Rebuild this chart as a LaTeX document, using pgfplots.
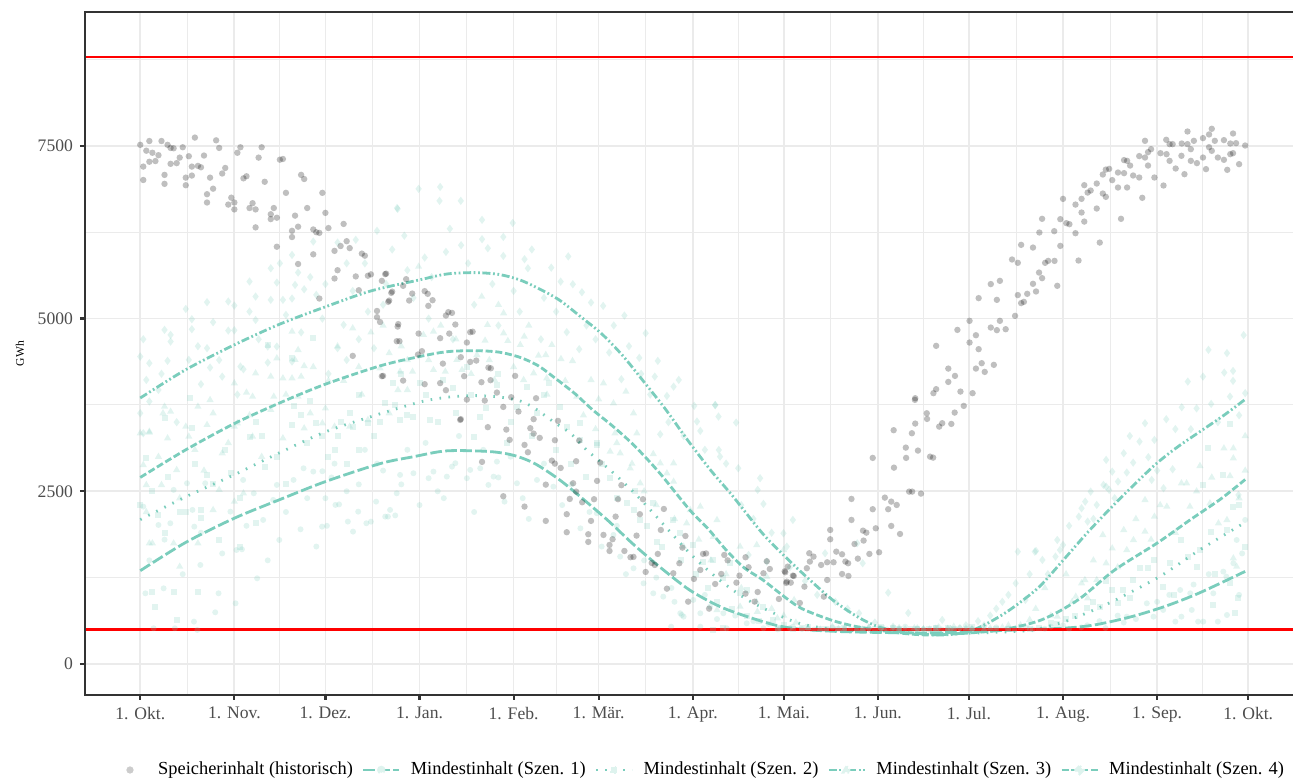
\documentclass[border=0pt]{standalone}
\usepackage{fontspec}
\setmainfont{Liberation Serif}
\usepackage{pgfplots}
\pgfplotsset{compat=1.18}
\definecolor{tealc}{RGB}{122,205,188}
\definecolor{gridc}{RGB}{235,235,235}
\definecolor{framec}{RGB}{51,51,51}
\definecolor{tickc}{RGB}{77,77,77}
\pgfplotsset{
  tealmark/.style={only marks, mark options={draw=tealc, draw opacity=0, line width=0pt, fill=tealc, fill opacity=0.22}, forget plot},
}
\begin{document}
\begin{tikzpicture}
\begin{axis}[
  scale only axis, width=607.7pt, height=341.5pt,
  xmin=-18.2, xmax=382.2, ymin=-449, ymax=9438,
  axis line style={draw=none},
  tick align=outside, tick pos=left,
  major tick length=2.5pt, minor tick length=0pt,
  tick style={framec, line width=1.1pt},
  xtick={0,31,61,92,123,151,182,212,243,273,304,335,365},
  xticklabels={1. Okt.,1. Nov.,1. Dez.,1. Jan.,1. Feb.,1. Mär.,1. Apr.,1. Mai.,1. Jun.,1. Jul.,1. Aug.,1. Sep.,1. Okt.},
  minor xtick={15.5,46,76.5,107.5,137,166.5,197,227.5,258,288.5,319.5,350},
  ytick={0,2500,5000,7500},
  yticklabels={0,2500,5000,7500},
  minor ytick={1250,3750,6250,8750},
  grid=both,
  major grid style={gridc, line width=0.85pt},
  minor grid style={gridc, line width=0.45pt},
  ticklabel style={font=\fontsize{8.8}{10}\selectfont, text=tickc},
  ylabel={GWh},
  ylabel style={font=\fontsize{5.8}{7}\selectfont, at={(axis description cs:-0.0535,0.5)}, anchor=center},
  legend columns=5,
  legend cell align=left,
  legend style={at={(axis description cs:0.0222,-0.1098)}, anchor=west, draw=none, fill=none,
    inner sep=0pt, outer sep=0pt, font=\fontsize{9.2}{11}\selectfont,
    nodes={inner sep=0pt},
    /tikz/every odd column/.style={column sep=5.1pt},
    /tikz/every even column/.style={column sep=4.5pt}},
]
% ---------- scenario scatter (Szen. 3, diamonds) ----------
\addplot[tealmark, mark=diamond*, mark size=2.1pt] coordinates {
(1,4701) (0,4450) (3,4354) (9,4388) (2,4112) (0,3630) (1,3340) (6,3967) (8,4836) (10,4764) (10,4667)
(15,5139) (17,4846) (17,4991) (16,4402) (20,4050) (22,5237) (24,4947) (22,4571) (23,4290) (27,4160)
(29,5247) (31,5188) (29,4826) (31,4830) (33,4305) (34,4266) (36,5536) (36,5101) (38,5319) (38,4980)
(42,4363) (43,5728) (45,5521) (43,5271) (47,5271) (48,5053) (45,4595) (42,4595) (50,5921) (52,5666)
(51,5487) (54,5424) (50,5290) (50,4378) (57,6115) (58,5343) (65,4571) (67,4909) (71,6140) (77,4571)
(78,6270) (84.6,6600) (60,5000) (65,6100) (70,5400) (74,5800) (80,5200) (83,6000) (88,5700) (72,4700)
(62,4200) (68,4400) (91.7,6878) (84.8,6588) (98.6,6704) (105.6,6704) (112.6,6429) (119.6,6182)
(112.6,6149) (105.7,6062) (100.7,5965) (93.7,5883) (114.5,6018) (119.6,5907) (126.6,5859) (135.4,5737)
(127.7,5728) (138.5,5535) (142.5,5497) (145.5,5381) (148.5,5232) (152.5,5184) (159.5,5044) (166.5,4788)
(140.5,4803) (144.6,4557) (154.5,4508) (158.5,4122) (164.4,4431) (170.5,4387) (177.4,4112) (169.5,4160)
(173.5,3880) (175.7,4015) (182.5,3736) (189.4,3745) (190.5,3581) (196.3,3494) (183.4,3509) (184.5,3374)
(171.3,3325) (98.8,6905) (122.7,6384) (95,5000) (103,4700) (110,5200) (118,4900) (125,5100) (132,4700)
(197,2833) (204.2,2689) (205.3,2317) (203.4,2520) (191,3001) (200.4,1578) (206.4,1482) (211.9,1892)
(213,1699) (189.4,3750) (190.6,3098) (215,2085) (225.6,1603) (236.2,1747) (238,1458) (236.8,734)
(246.4,1032) (253,738) (264.2,637) (240,520) (244,505) (248,540) (252,500) (256,515) (260,500) (263,530)
(267,505) (270,520) (274,500) (278,560) (280,700) (284,900) (289.1,1626) (294.7,1626) (297.2,1506)
(288.4,1168) (291.6,927) (301.5,1554) (304,1723) (295.1,1636) (302.1,1795) (303,1650) (310.1,2254)
(309.2,2133) (311.3,2350) (312.1,2061) (313.1,2495) (315.1,2302) (318.2,2954) (317.3,2592) (320.2,2784)
(318.2,2568) (319.2,2520) (324,3050) (325,2771) (322.1,2640) (327.1,2915) (329.2,3219) (331,3485)
(334.1,3243) (332.1,2993) (333.2,2664) (338,3543) (340.1,2819) (337.1,2544) (343.1,3716) (346.1,3398)
(345.1,4088) (350.1,4160) (352.8,3764) (357.1,4218) (360,4242) (360,4098) (359,3871) (364,3920)
(361.8,2447) (351.9,4547) (363.5,4760)
(3,3800) (7,4200) (12,3500) (19,4600) (26,4400) (32,3900) (39,4700) (46,5800) (53,4800) (56,5600)
(61,5500) (68,5800) (75,5100) (81,5500) (87,6200) (90,5300) (96,5600) (102,6300) (108,5800) (116,5500)
(123,5400) (129,6000) (133,5300) (137,5100) (141,5900) (147,4900) (150,4700) (156,4900) (161,4600)
(165,4200) (168,3900) (174,3500) (179,3300) (186,3100) (193,2900) (198,2300) (202,2100) (208,1900)
(214,1400) (219,1200) (223,1000) (229,900) (233,800) (242,600) (250,520) (258,500) (266,510) (272,560)
(276,620) (282,800) (286,1000) (293,1300) (299,1300) (306,2000) (314,2100) (321,2400) (326,3300)
(335,2800) (341,3400) (348,3700) (355,3500) (358,4500) (362,3600)
};
% ---------- Szen. 4, triangles ----------
\addplot[tealmark, mark=triangle*, mark size=2.1pt] coordinates {
(0,3340) (3,3364) (8,3726) (10,3653) (9,3268) (16,3292) (22,3461) (27,3051) (32,3485) (43,3678) (47,3268)
(54,3412) (60,3485) (64,3436) (69,3436) (75,3533) (82,3630) (11,1747) (3,1747) (24,2230) (31,2350)
(19,1747) (13,1409) (26,2520) (34,2471) (12,2809) (7,2592) (1,2881) (2,2592) (4,1747) (43,4160)
(50,4812) (52,4546) (54,4314) (45,4426) (47,4136) (50,4136) (53,4160) (51,4402) (35,3929) (38,4208)
(31,4064) (23,3822) (24,3630) (19,3726) (7.5,3630) (3,3349) (15,3436) (31,3436) (37,3870) (44,3870)
(37,3292) (52,3870) (56,3630) (65,4600) (70,4860) (76,4800) (79,4281) (82,4500) (88,4400) (62,4100)
(72,4300) (91.7,5752) (119.7,5078) (112.5,5318) (114.4,4909) (126.5,4740) (119.7,4788) (113.6,4682)
(96.6,4812) (93.3,4764) (85.6,4232) (89.7,4232) (84.9,3967) (88,3967) (96.6,4257) (104.3,4402)
(110.9,4474) (121.1,4677) (125.2,4619) (131.2,4464) (133.6,4474) (135.6,4619) (138.6,4416) (142.4,4387)
(148.5,4112) (152.6,4064) (155.9,3774) (160,3943) (163.6,3340) (156.4,3340) (129.6,4209) (100.5,4232)
(106,4257) (116.7,4112) (126.3,4112) (133.9,4136) (143.8,3870) (151,3832) (162.5,3630) (154.8,3075)
(158.1,3051) (161.4,2833) (164.7,2616) (169,3040) (171.3,2906) (173.5,2761) (175.7,2640) (175.7,2906)
(180,2037) (181.2,2230) (184.5,2278) (190,2085) (188.8,1843) (197.6,1699) (203.1,1723) (206.4,1264)
(211.9,1650) (190,782) (197.6,830) (203.3,757) (209.9,662) (215.4,927) (220,520) (224,500) (228,540)
(232,505) (236,500) (240,530) (245,510) (250,500) (255,520) (262,500) (268,540) (274,505) (280,520)
(286,560) (295,800) (298,1100) (305,1300) (360.1,3122) (360.1,2978) (357,3122) (359,2722) (349.1,2867)
(344.7,2616) (345.8,2278) (343,2616) (338.2,2278) (336,2300) (334.1,2133) (331,2375) (331,1916)
(327.2,1795) (325,1650) (324,1940) (320.2,1674) (317.1,1868) (318.2,1458) (315.1,1216) (311.2,1216)
(310.1,1168) (312.1,951) (308.2,975) (302.1,685) (360.1,1530) (361.2,1409) (364,2799) (355.2,2037)
(358,2085) (352.4,2326)
(2,2200) (6,3000) (13,2400) (18,3100) (21,2800) (29,3200) (36,3600) (40,3000) (48,3900) (57,4300)
(61,3700) (67,4100) (73,3900) (80,4900) (86,4600) (95,4400) (99,4900) (104,4700) (109,4200) (115,4400)
(118,5200) (123,4300) (128,4900) (134,3900) (140,4100) (146,3600) (150,3400) (157,3200) (162,2900)
(166,2500) (170,2300) (176,2100) (179,1700) (184,1800) (188,1500) (193,1300) (198,1100) (203,900)
(208,800) (212,700) (216,600) (230,510) (238,500) (248,520) (258,505) (266,500) (272,515) (278,500)
(284,530) (290,560) (293,640) (300,700) (307,900) (314,1500) (322,1400) (328,2100) (333,1800)
(341,1900) (348,2500) (353,2700) (362,2400) (364,3300)
};
% ---------- Szen. 2, squares ----------
\addplot[tealmark, mark=square*, mark size=1.5pt] coordinates {
(2,2978) (8,1892) (11,1047) (4,1047) (5,830) (12,637) (19,1047) (20,2230) (13,2205) (6,2157) (22,2737)
(30,2761) (36,3292) (41,2857) (50,3461) (55,3195) (64,3099) (70,3436) (75,3485) (38,2037) (33,1699)
(26,1795) (20,2109) (57,4716) (42,4619) (50,4426) (17,3412) (8,3557) (38,3509) (53,3605) (58,3485)
(16.5,3847) (50.5,3735) (66,3500) (72,3900) (77,3300) (84,3750) (88,3600) (62,3000) (68,2900) (69,3630)
(85.6,3533) (95.5,3533) (104,3630) (112,3582) (124,3726) (130.6,3630) (138.3,3726) (140.5,3436)
(150.4,3195) (127.5,4015) (134.6,4064) (117.4,4040) (107.6,4305) (99.9,4112) (92.3,4064) (83.4,4064)
(90,3582) (80.7,3774) (109.8,3292) (120.8,3195) (145,3485) (145,3243) (150.4,3171) (154.8,2689)
(160.3,2326) (162.5,2230) (164.7,2085) (169,2326) (170.1,1771) (175.6,2085) (177.9,1892) (182.2,1723)
(185.5,1482) (188.8,1506) (192.1,1240) (194.3,1458) (197.6,1023) (199.8,1071) (205.3,830) (208.6,637)
(192.1,517) (188.8,492) (210,517) (215,500) (220,530) (226,505) (232,520) (238,500) (244,540) (250,510)
(256,500) (262,520) (268,505) (274,530) (282,500) (290,540) (296,520) (300,600) (305,650) (351.9,3122)
(350,2592) (359,3475) (356.8,2736) (358,1940) (360.1,2278) (349,1650) (352.8,1916) (345.3,1554)
(348,1409) (339.3,1458) (340.4,999) (337,1119) (329.4,1385) (332,1385) (327.2,1216) (323.9,1071)
(322.2,878) (320,1071) (316.2,830) (311.8,806) (361.8,951) (353.5,854) (360.7,734) (359,1168)
(0,2300) (4,2500) (9,2700) (15,2200) (18,2900) (24,2600) (28,3100) (33,2400) (40,3300) (45,3000)
(48,2600) (56,3800) (60,3300) (65,3300) (72,3100) (79,3500) (86,4200) (94,3900) (98,3500) (103,4000)
(109,3900) (114,3700) (118,4200) (122,3500) (129,3300) (133,3900) (137,3100) (142,2900) (147,2700)
(152,2900) (157,2400) (163,2500) (167,2000) (172,1700) (178,1500) (183,1300) (187,1100) (190,900)
(195,800) (200,700) (204,620) (212,560) (218,520) (224,500) (230,510) (236,520) (242,500) (248,515)
(254,505) (260,500) (266,515) (272,500) (278,520) (286,510) (293,505) (302,580) (308,700) (314,900)
(318,1200) (326,950) (334,1500) (343,1800) (354,1300) (362,2300) (364,1700)
};
% ---------- Szen. 1, circles ----------
\addplot[tealmark, mark=*, mark size=1.5pt] coordinates {
(1.7,1023) (4.4,517) (7.7,1095) (11.4,517) (17.7,613) (18.8,492) (19.8,1433) (25.8,1023) (24.7,748)
(31.4,878) (31.7,1650) (33.5,1660) (38.5,1240) (40.5,2085) (43.8,2375) (45.8,1795) (52.8,1950)
(59.9,1988) (61.5,2000) (64.3,2302) (65.5,2310) (68.4,2061) (70.1,1916) (71.8,2205) (74.5,2037)
(76,2060) (77.7,2350) (81.6,2133) (84,2150) (6,2012) (1,2278) (9.9,2037) (17.2,2230) (17.8,1988)
(29.7,2205) (33.9,2664) (45,2592) (50.5,2664) (53.8,2833) (57,2785) (60,2790) (61,2399) (37.4,2471)
(21.4,2616) (15.4,2616) (11,2520) (64,2900) (68,2500) (74,3100) (80,2800) (86,2600) (80.7,2133)
(82.3,2230) (85.6,2737) (90,2761) (95,2689) (96.6,2785) (101,2712) (102.7,2857) (103.8,2906)
(107.6,2689) (112,2833) (114.7,2592) (116.4,2712) (117.5,2929) (124.1,2616) (130.7,2664) (136.1,2567)
(145,1964) (150.4,2182) (155.9,1868) (158.1,1554) (162.5,1385) (165.8,1168) (169,1023) (172.3,975)
(175,1100) (177.9,734) (179,685) (182.2,927) (184.5,734) (187.7,830) (192.1,734) (184.5,540)
(193.2,517) (199.8,589) (205.3,517) (210.8,517) (174.9,540) (84.5,2471) (108.7,2809) (178.4,709)
(92,2300) (100,2400) (110,2200) (120,2350) (128,2100) (210,500) (214,520) (218,505) (222,500) (228,530)
(234,500) (240,515) (246,500) (252,540) (258,505) (264,500) (270,520) (276,500) (282,530) (288,505)
(294,500) (300,540) (306,510) (312,560) (318,520) (324,600) (343,685) (341,613) (346.4,782) (348.5,613)
(350.2,613) (355,613) (358,709) (356.8,1337) (360.1,1458) (353.5,1023) (361.2,1795) (364,2085)
(357.8,1264) (342.6,1071) (345.9,1023) (337,782) (331.6,878) (325,685) (333.8,685)
(3,1500) (8,1800) (14,1300) (20,1900) (27,1600) (35,2000) (42,1500) (48,2200) (55,2400) (58,1700)
(63,2700) (72,2600) (78,2900) (88,3100) (94,3200) (98,2500) (105,3300) (113,3100) (118,2700) (122,3000)
(126,2400) (133,2900) (139,2300) (142,2600) (148,2200) (152,1700) (157,2000) (160,1300) (166,1500)
(170,1250) (176,900) (186,1000) (190,650) (196,700) (202,620) (207,580) (215,540) (220,510) (226,500)
(232,515) (238,505) (244,520) (250,500) (256,510) (262,525) (268,500) (274,510) (280,500) (286,515)
(292,530) (298,510) (304,560) (310,530) (316,620) (322,700) (328,650) (335,900) (339,1000) (347,1150)
(352,1300) (362,1000) (363,1600)
};
% ---------- historical storage ----------
\addplot[only marks, mark=*, mark size=1.6pt, mark options={draw=black, draw opacity=0, line width=0pt, fill=black, fill opacity=0.25},
  legend image code/.code={\path[draw=none, fill=none] (0pt,-2pt) rectangle (18pt,2pt); \fill[black!20] (9pt,0pt) circle (1.6pt);}] coordinates {
(0,7515) (1,7200) (1,7006) (2,7430) (3,7570) (3,7270) (4,7400) (5,7280) (6,7365) (7,7570) (8,7080)
(8,6950) (9,7515) (10,7470) (10,7240) (11,7465) (12,7250) (13,7330) (14,7480) (15,7040) (15,6930)
(16,7350) (17,7200) (17,7070) (18,7620) (19,7210) (20,7190) (21,7360) (22,6800) (22,6680) (23,7040)
(24,6880) (25,7580) (26,7470) (27,7100) (28,7180) (29,6650) (30,6750) (31,6680) (31,6580) (32,7400)
(33,7480) (34,7030) (35,7060) (36,6600) (37,6670) (38,6580) (38,6320) (39,7330) (40,7480) (41,6980)
(43,6510) (43,6440) (44,6600) (45,6460) (45,6040) (46,7300) (47,7310) (48,6820) (50,6270) (50,6180)
(51,6490) (52,6330) (52,5790) (53,7080) (54,7020) (55,6600) (57,6290) (57,5930) (58,6250) (59,6240)
(59,5290) (60,6820) (61,6530) (62,6310) (64,5980) (64,5580) (65,5700) (66,6050) (67,6370) (68,6120)
(69,6020) (70,4460) (71,5610) (72,5410) (73,5940) (74,5910) (75,5620) (76,5640) (78,5110) (78,5020)
(79,4950) (80,4170) (81,5650) (82,5260) (83,5390) (85,4920)
(80.7,5643) (79.6,5546) (82.7,5372) (81.7,5242) (87.6,5570) (86.6,5474) (89.6,5362) (88.6,5261)
(93.7,5397) (94.7,5358) (96.3,5266) (94.9,5184) (101.5,5093) (102.7,5082) (100.7,5044) (84.8,4884)
(103.8,4914) (84.5,4672) (85.4,4672) (91.7,4783) (92.8,4528) (91.5,4479) (98.8,4716) (101.8,4783)
(108.7,4803) (109.5,4810) (107.6,4653) (105.6,4441) (99.7,4348) (108.7,4373) (110.7,4392) (106.7,4166)
(114.7,4290) (115.5,4280) (79.6,4166) (86.6,4102) (93.7,4050) (98.8,4065) (100.7,3963) (112.4,4079)
(115.4,4108) (117.5,3929) (123.5,4170) (107.6,3827) (113.5,3813) (119.6,3721) (122.2,3862) (124.6,3654)
(130.4,3847) (129.6,3544) (137.6,3519) (105.6,3544) (114.5,3428) (120.6,3393) (128.5,3413) (129.6,3335)
(131.6,3273) (121.7,3244) (126.6,3171) (136.6,3239) (144.6,3233)
(105.4,3533) (112.6,2925) (119.6,2428) (126.6,2278) (133.6,2071) (133.6,2596) (135.6,2944) (136.6,2900)
(138.5,2838) (127.7,3065) (140.5,2168) (140.5,1907) (141.5,2389) (142.6,2616) (143.6,2935) (143.6,2495)
(145.6,2341) (147.6,1878) (147.6,1767) (148.5,2071) (149.5,2385) (150.5,2650) (151.5,2915) (152.6,1868)
(154.6,1723) (154.6,1636) (155.6,1806) (156.6,2133) (157.4,2385) (158.5,2588) (159.5,1636) (161.5,1545)
(162.5,1550) (163.5,1858) (164.6,2168) (165.6,2385) (166.5,1332) (168.5,1462) (169.5,1433) (170.5,1593)
(171.5,1940) (172.5,2244) (173.5,1090) (175.6,1313) (177.6,1458) (178.6,1684) (179.6,1853) (180.5,902)
(182.4,1231) (184.5,1361) (185.4,1593) (186.4,1600) (187.4,801) (189.4,1158) (191.4,1303) (192.4,1578)
(193.5,1500) (196.4,1177) (197.4,1279) (199.4,1545) (199.4,1018) (200.4,1400) (202.4,902) (203.4,1042)
(205.3,1313) (206.4,1487) (207.4,1375) (210.4,941) (212.3,1342) (212.8,1173) (213.3,1409) (214.3,1177)
(215.3,1274)
(212.5,1327) (213,1192) (215,1279) (217.3,883) (220.6,1482) (220.4,1603) (219.6,1386) (218.8,1119)
(221.8,1554) (224.3,1433) (225.2,975) (226.3,1472) (228.4,1472) (226.3,1216) (227.3,1940) (227.3,1805)
(229.3,1626) (231.2,1588) (231.2,1303) (232.3,1482) (233.3,1274) (233.2,1458) (234.3,2389) (234.3,2085)
(235.3,1737) (236.4,1525) (238.1,1930) (239.2,1901) (238.3,1786) (240.2,1593) (241.3,2240) (242.3,1964)
(243.4,1617) (241.3,2983) (245.3,2408) (246.4,2240) (247.4,2350) (249.2,2302) (247.4,1998) (250.3,1882)
(248.3,2842) (248.2,3384) (252.2,3132) (252.3,2983) (253.3,2495) (254.3,2495) (254.2,3340) (255.3,3480)
(256.2,3089) (257.2,2466) (259.1,3629) (259.2,3547) (260.2,3001) (261.2,2987) (263.2,3436) (264.2,3485)
(267.2,3475) (268.3,3639) (271.3,3736) (255.2,3823)
(255.3,3847) (261.3,3920) (262.2,3978) (262.2,4605) (266.2,4276) (266.2,4083) (268.4,4170) (269.2,4836)
(270.2,3943) (273.2,4967) (273.2,4653) (274.2,3920) (275.3,4759) (275.3,4276) (276.2,4557) (276.2,5296)
(277.2,4354) (278.2,4228) (280.2,5499) (280.2,4870) (281.2,4330) (282.2,5271) (282.2,4832) (283.2,5546)
(283.2,4967) (285.1,4846) (287.2,5855) (288.2,5039) (289.1,5807) (289.1,5340) (290.2,6067) (290.2,5224)
(291.1,5242) (292.2,5358) (294.1,6028) (294.1,5503) (295.1,5392) (296.1,5666) (296.2,6246) (297.1,6444)
(297.1,5585) (298.1,5807) (299.1,5835) (301.1,6265) (301.2,5835) (302.1,5474) (303.1,6439) (303.1,6052)
(304,6733) (305.1,6381) (306.1,6366) (308.1,6236) (308.1,6650) (309.1,5840) (310.1,6733) (310.1,6535)
(311,6931) (311,6404) (312.1,6824) (313.1,6853) (315.1,6955) (315.1,6593) (316.1,6100) (317.1,7085)
(317.1,6810) (318.1,6762) (318.1,7157) (319.2,7167) (320.2,7004) (322.1,7114) (322.1,6897) (323.1,6444)
(324.1,7294) (324.1,7105) (325.1,7283) (325.1,6897) (326.1,7215) (327.1,7071) (329.1,7042) (329.1,7352)
(330.1,6748) (331,7573) (331,7331) (332,7215) (332,7409) (333,7452) (334.1,7042) (336.1,7394) (337.1,6926)
(338,7588) (338.1,7380) (339.1,7283) (339.1,7525) (340.1,7525) (341.1,7172) (343,7356) (343.1,7534)
(344,7090) (345,7708) (345,7525) (346.1,7283) (346.1,7452) (347.1,7573) (348.1,7250) (350.1,7612)
(350.1,7331) (351.1,7163) (352.1,7665) (352.1,7481) (353,7747) (353,7428) (354,7573) (355,7331)
(357,7583) (357,7298) (358.1,7153) (359.1,7534) (359.1,7380) (360,7679) (360,7394) (361,7539) (362,7235)
(364,7505)
};
\addlegendentry{Speicherinhalt (historisch)}
% ---------- Szen. 1 line (long dash) ----------
\addplot[tealc, line width=1.4pt, smooth, dash pattern=on 5.8pt off 1.7pt,
  legend image code/.code={\draw[tealc, line width=1.4pt, dash pattern=on 5.8pt off 1.7pt] (0pt,0pt) -- (18pt,0pt); \fill[tealc!25] (9pt,0pt) circle (1.4pt);}] coordinates {
(0,1350) (15,1760) (31,2110) (46,2380) (61,2640) (79,2900) (90,3000) (101,3085) (115,3075) (123,3020)
(130,2900) (138,2670) (145,2420) (154,2080) (162,1750) (171,1410) (181,1070) (191,830) (200,685)
(209,565) (217,505) (230,470) (245,455) (260,450) (275,470) (290,495) (305,520) (315,570) (327,690)
(338,840) (349,1030) (364,1340)
};
\addlegendentry{Mindestinhalt (Szen. 1)}
% ---------- Szen. 2 line (dotted) ----------
\addplot[tealc, line width=1.4pt, smooth, dash pattern=on 0.8pt off 3.7pt,
  legend image code/.code={\draw[tealc, line width=1.4pt, dash pattern=on 0.8pt off 3.7pt] (0pt,0pt) -- (18pt,0pt); \fill[tealc!25] (7.6pt,-1.4pt) rectangle (10.4pt,1.4pt);}] coordinates {
(0,2090) (15,2420) (31,2740) (46,3060) (61,3360) (76,3580) (92,3790) (101,3860) (110,3885) (118,3865)
(125,3810) (130,3700) (136,3510) (142,3330) (147,3100) (156,2760) (165,2375) (174,1940) (182,1560)
(191,1210) (200,930) (209,730) (217,590) (225,520) (235,480) (250,450) (265,440) (280,455) (292,480)
(298,530) (305,620) (313,760) (321,920) (336,1270) (349,1650) (364,2050)
};
\addlegendentry{Mindestinhalt (Szen. 2)}
% ---------- Szen. 3 line (dash dot dot) ----------
\addplot[tealc, line width=1.4pt, smooth, dash pattern=on 4pt off 1.3pt on 0.9pt off 1.3pt on 0.9pt off 1.3pt,
  legend image code/.code={\draw[tealc, line width=1.4pt, dash pattern=on 4pt off 1.3pt on 0.9pt off 1.3pt on 0.9pt off 1.3pt] (0pt,0pt) -- (18pt,0pt); \fill[tealc!25] (9pt,1.8pt) -- (7.3pt,-1.1pt) -- (10.7pt,-1.1pt) -- cycle;}] coordinates {
(0,3850) (15,4260) (31,4620) (46,4920) (61,5170) (76,5400) (92,5560) (101,5645) (110,5665) (118,5640)
(125,5560) (131,5440) (138,5270) (145,5030) (152,4780) (159,4460) (166,4080) (173,3690) (180,3260)
(188,2800) (195,2440) (205,1890) (213,1530) (220,1240) (228,930) (236,690) (243,540) (250,470)
(258,435) (265,420) (273,470) (280,610) (287,800) (296,1110) (304,1500) (312,1900) (320,2270)
(328,2620) (335,2910) (342,3150) (350,3390) (357,3600) (364,3830)
};
\addlegendentry{Mindestinhalt (Szen. 3)}
% ---------- Szen. 4 line (dashed) ----------
\addplot[tealc, line width=1.4pt, smooth, dash pattern=on 3.5pt off 1.4pt,
  legend image code/.code={\draw[tealc, line width=1.4pt, dash pattern=on 3.5pt off 1.4pt] (0pt,0pt) -- (18pt,0pt); \fill[tealc!25] (9pt,1.9pt) -- (7.1pt,0pt) -- (9pt,-1.9pt) -- (10.9pt,0pt) -- cycle;}] coordinates {
(0,2700) (15,3100) (31,3480) (46,3780) (61,4050) (79,4315) (92,4450) (101,4520) (110,4535) (118,4515)
(125,4440) (131,4320) (136,4160) (143,3920) (149,3680) (156,3430) (163,3150) (171,2770) (181,2230)
(187,1960) (193,1650) (199,1390) (205,1220) (212,980) (218,800) (228,630) (236,540) (243,490) (252,440)
(259,420) (266,430) (272,445) (284,495) (297,640) (309,930) (321,1360) (335,1750) (346,2090) (356,2390)
(364,2670)
};
\addlegendentry{Mindestinhalt (Szen. 4)}
% ---------- limits ----------
\addplot[red, line width=1.2pt, forget plot] coordinates {(-18.2,8790) (382.2,8790)};
\addplot[red, line width=1.2pt, forget plot] coordinates {(-18.2,500) (382.2,500)};
\coordinate (bl) at (rel axis cs:0,0);
\coordinate (br) at (rel axis cs:1,0);
\coordinate (tl) at (rel axis cs:0,1);
\coordinate (tr) at (rel axis cs:1,1);
\end{axis}
\draw[framec, line width=1.1pt] (tr) -- (tl) -- (bl) -- (br);
\pgfresetboundingbox
\path[use as bounding box] ([xshift=-42.5pt,yshift=-43.5pt]bl) rectangle ([xshift=604pt,yshift=6pt]tl);
\end{tikzpicture}
\end{document}
